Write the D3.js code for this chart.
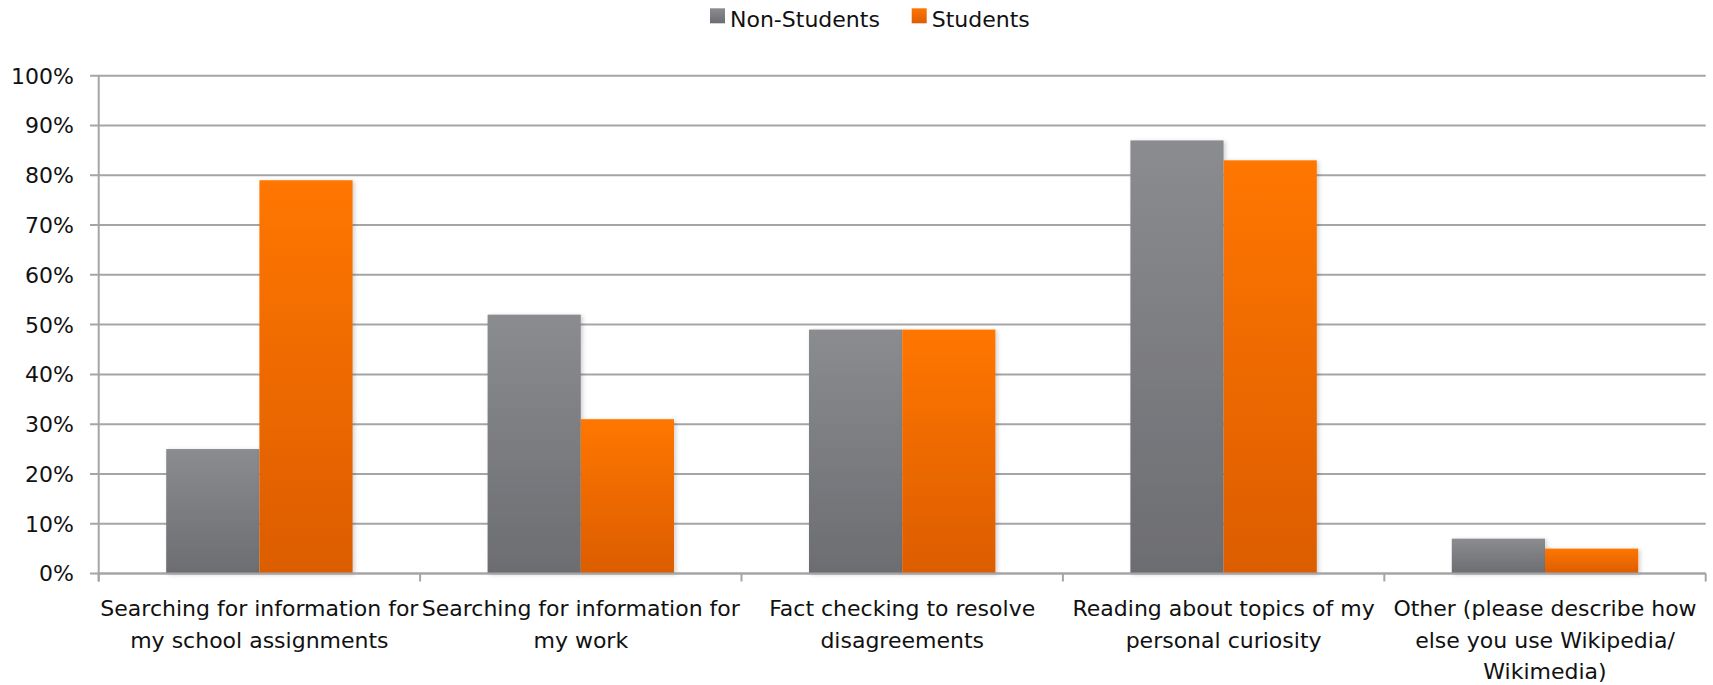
<!DOCTYPE html>
<html>
<head>
<meta charset="utf-8">
<script src="https://cdn.jsdelivr.net/npm/d3@7/dist/d3.min.js"></script>
<style>
  html, body { margin: 0; padding: 0; background: #ffffff; }
  svg { display: block; }
  text { font-family: "DejaVu Sans", sans-serif; fill: #111111; }
</style>
</head>
<body>
<svg id="chart" width="1713" height="685"></svg>
<script>
// ---- data ----
const categories = [
  "Searching for information for my school assignments",
  "Searching for information for my work",
  "Fact checking to resolve disagreements",
  "Reading about topics of my personal curiosity",
  "Other (please describe how else you use Wikipedia/ Wikimedia)"
];
const categoryLines = [
  ["Searching for information for", "my school assignments"],
  ["Searching for information for", "my work"],
  ["Fact checking to resolve", "disagreements"],
  ["Reading about topics of my", "personal curiosity"],
  ["Other (please describe how", "else you use Wikipedia/", "Wikimedia)"]
];
const seriesNames = ["Non-Students", "Students"];
const nonStudents = [25, 52, 49, 87, 7];
const students = [79, 31, 49, 83, 5];
const yTicks = [0, 10, 20, 30, 40, 50, 60, 70, 80, 90, 100];

// ---- layout ----
const plotLeft = 98.7, plotRight = 1705.7, plotTop = 75.7, plotBottom = 573.5;
const svg = d3.select("#chart");

const defs = svg.append("defs");
const gradDefs = [
  { id: "gGray", c0: "#8b8c8f", c1: "#6c6d71" },
  { id: "gOrange", c0: "#ff7600", c1: "#dc5d00" }
];
gradDefs.forEach(g => {
  const lg = defs.append("linearGradient").attr("id", g.id)
    .attr("x1", 0).attr("y1", 0).attr("x2", 0).attr("y2", 1);
  lg.append("stop").attr("offset", "0%").attr("stop-color", g.c0);
  lg.append("stop").attr("offset", "100%").attr("stop-color", g.c1);
});
const flt = defs.append("filter").attr("id", "shadow")
  .attr("x", "-10%").attr("y", "-10%").attr("width", "130%").attr("height", "130%");
flt.append("feDropShadow").attr("dx", 2).attr("dy", 1).attr("stdDeviation", 2)
  .attr("flood-color", "#000").attr("flood-opacity", 0.18);

const fills = ["url(#gGray)", "url(#gOrange)"];

const x0 = d3.scaleBand().domain(categories).range([plotLeft, plotRight]).padding(0);
const bw = x0.bandwidth();
const pad = bw * 0.21;
const x1 = d3.scaleBand().domain(seriesNames).range([pad, bw - pad]).padding(0);
const y = d3.scaleLinear().domain([0, 100]).range([plotBottom, plotTop]);

const gridColor = "#a5a5a5";

// gridlines + y ticks
svg.append("g").selectAll("line").data(yTicks).join("line")
  .attr("x1", plotLeft - 8.7).attr("x2", plotRight)
  .attr("y1", d => y(d)).attr("y2", d => y(d))
  .attr("stroke", gridColor).attr("stroke-width", 2);

// y labels
svg.append("g").selectAll("text").data(yTicks).join("text")
  .attr("x", 74).attr("y", d => y(d)).attr("dy", "0.36em")
  .attr("text-anchor", "end").style("font-size", "22px")
  .text(d => d + "%");

// y axis line
svg.append("line").attr("x1", plotLeft).attr("x2", plotLeft).attr("y1", plotTop).attr("y2", plotBottom + 8)
  .attr("stroke", gridColor).attr("stroke-width", 2);

// x ticks at band boundaries
const boundaries = categories.map(c => x0(c)).concat([x0(categories[categories.length - 1]) + bw]);
svg.append("g").selectAll("line").data(boundaries).join("line")
  .attr("x1", d => d).attr("x2", d => d).attr("y1", plotBottom).attr("y2", plotBottom + 8)
  .attr("stroke", gridColor).attr("stroke-width", 2);

// bars
const rows = categories.map((c, i) => ({ cat: c, vals: [nonStudents[i], students[i]] }));
const groups = svg.append("g").selectAll("g").data(rows).join("g")
  .attr("transform", d => `translate(${x0(d.cat)},0)`);
groups.selectAll("rect").data(d => d.vals.map((v, k) => ({ v, k }))).join("rect")
  .attr("x", d => x1(seriesNames[d.k]))
  .attr("width", x1.bandwidth())
  .attr("y", d => y(d.v))
  .attr("height", d => y(0) - y(d.v))
  .attr("fill", d => fills[d.k])
  .attr("filter", "url(#shadow)");

// redraw baseline on top
svg.append("line").attr("x1", plotLeft).attr("x2", plotRight).attr("y1", plotBottom).attr("y2", plotBottom)
  .attr("stroke", gridColor).attr("stroke-width", 2);

// category labels
const lab = svg.append("g").selectAll("text").data(categories).join("text")
  .attr("text-anchor", "middle").style("font-size", "22px");
lab.each(function (c, i) {
  const t = d3.select(this);
  categoryLines[i].forEach((ln, j) => {
    t.append("tspan").attr("x", x0(c) + bw / 2).attr("y", 616 + j * 31.5).text(ln);
  });
});

// legend
const legX = [710, 911.7];
const leg = svg.append("g").selectAll("g").data(seriesNames).join("g")
  .attr("transform", (d, i) => `translate(${legX[i]},0)`);
leg.append("rect").attr("x", 0).attr("y", 8.3).attr("width", 15).attr("height", 15)
  .attr("fill", (d, i) => fills[i]);
leg.append("text").attr("x", 20).attr("y", 26.5).style("font-size", "22px").text(d => d);
</script>
</body>
</html>
